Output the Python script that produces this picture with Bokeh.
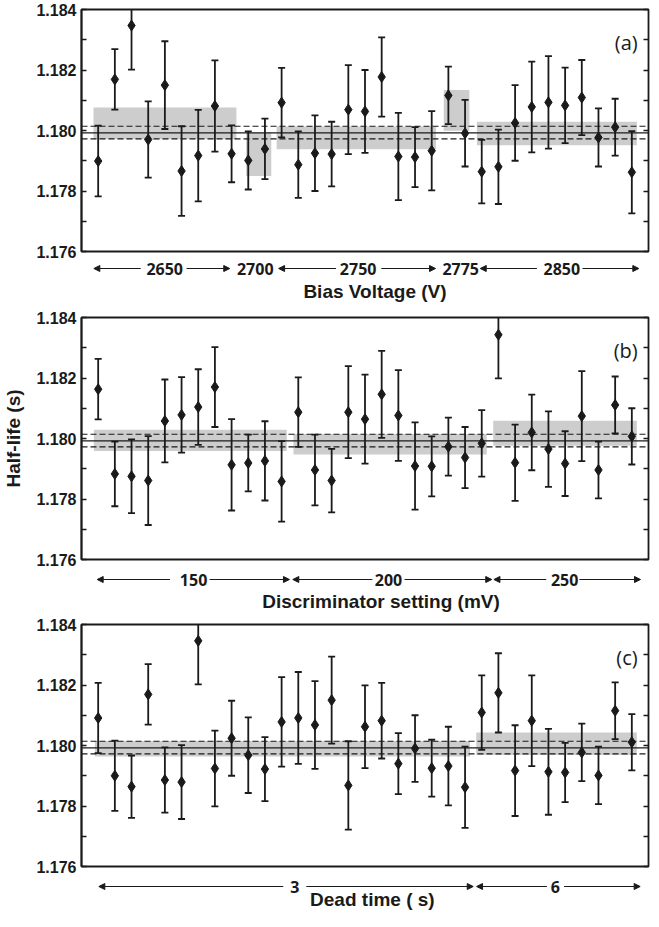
from bokeh.plotting import figure
from bokeh.models import (Range1d, FixedTicker, LinearAxis, Arrow, NormalHead, Span,
                          PrintfTickFormatter, CustomJSTickFormatter)
from bokeh.layouts import column
from bokeh.core.properties import value
from bokeh.embed import file_html
from bokeh.resources import INLINE

# ---------------- data ----------------
run_index = list(range(1, 34))

bias_val = [1.17899, 1.18169, 1.18347, 1.17970, 1.18150, 1.17866, 1.17917, 1.18081, 1.17923,
            1.17901, 1.17939, 1.18092, 1.17887, 1.17925, 1.17922, 1.18069, 1.18063, 1.18177,
            1.17914, 1.17912, 1.17933, 1.18116, 1.17991, 1.17864, 1.17880, 1.18025, 1.18078,
            1.18093, 1.18083, 1.18109, 1.17977, 1.18011, 1.17862]
bias_err = [0.00117, 0.00100, 0.00146, 0.00126, 0.00145, 0.00148, 0.00151, 0.00151, 0.00094,
            0.00096, 0.00100, 0.00115, 0.00110, 0.00125, 0.00107, 0.00147, 0.00137, 0.00131,
            0.00144, 0.00099, 0.00131, 0.00095, 0.00110, 0.00105, 0.00123, 0.00125, 0.00150,
            0.00153, 0.00125, 0.00124, 0.00096, 0.00094, 0.00136]

disc_val = [1.18163, 1.17883, 1.17875, 1.17861, 1.18058, 1.18078, 1.18104, 1.18170, 1.17913,
            1.17919, 1.17926, 1.17858, 1.18087, 1.17896, 1.17861, 1.18087, 1.18064, 1.18146,
            1.18076, 1.17909, 1.17908, 1.17973, 1.17937, 1.17984, 1.18343, 1.17920, 1.18020,
            1.17965, 1.17917, 1.18074, 1.17896, 1.18111, 1.18007]
disc_err = [0.00100, 0.00107, 0.00122, 0.00147, 0.00137, 0.00125, 0.00125, 0.00132, 0.00151,
            0.00094, 0.00131, 0.00133, 0.00115, 0.00117, 0.00105, 0.00152, 0.00147, 0.00144,
            0.00150, 0.00144, 0.00099, 0.00096, 0.00101, 0.00110, 0.00144, 0.00126, 0.00125,
            0.00125, 0.00107, 0.00149, 0.00094, 0.00094, 0.00093]

dead_val = [1.18091, 1.17900, 1.17864, 1.18169, 1.17886, 1.17879, 1.18346, 1.17924, 1.18024,
            1.17968, 1.17922, 1.18078, 1.18091, 1.18068, 1.18150, 1.17868, 1.18062, 1.18082,
            1.17940, 1.17990, 1.17925, 1.17932, 1.17862, 1.18109, 1.18174, 1.17917, 1.18082,
            1.17913, 1.17911, 1.17977, 1.17901, 1.18115, 1.18011]
dead_err = [0.00116, 0.00116, 0.00103, 0.00100, 0.00108, 0.00122, 0.00144, 0.00125, 0.00124,
            0.00125, 0.00106, 0.00148, 0.00152, 0.00145, 0.00144, 0.00146, 0.00137, 0.00125,
            0.00101, 0.00110, 0.00094, 0.00130, 0.00134, 0.00123, 0.00131, 0.00150, 0.00150,
            0.00142, 0.00098, 0.00095, 0.00095, 0.00094, 0.00093]

# group averages (grey bands): run-index extent and value range
bias_band_left = [0.72, 9.87, 11.70, 21.72, 23.71]
bias_band_right = [9.29, 11.38, 21.26, 23.26, 33.30]
bias_band_low = [1.17971, 1.17850, 1.17938, 1.17999, 1.17951]
bias_band_high = [1.18076, 1.17993, 1.18013, 1.18134, 1.18029]

disc_band_left = [0.74, 12.71, 24.69]
disc_band_right = [12.31, 24.30, 33.30]
disc_band_low = [1.17959, 1.17947, 1.17976]
disc_band_high = [1.18029, 1.18015, 1.18059]

dead_band_left = [0.80, 23.67]
dead_band_right = [23.30, 33.30]
dead_band_low = [1.17964, 1.17969]
dead_band_high = [1.18015, 1.18043]

# overall result
mean_halflife = 1.17992
mean_upper = 1.18014
mean_lower = 1.17972

# setting labels under each panel
bias_labels = ["2650", "2700", "2750", "2775", "2850"]
bias_label_x = [4.99, 10.42, 16.59, 22.74, 28.80]
bias_arrows = [(3.55, 0.74), (6.30, 8.89), (15.26, 11.82), (17.98, 21.23), (27.31, 23.91), (30.04, 33.42)]

disc_labels = ["150", "200", "250"]
disc_label_x = [6.72, 18.41, 28.97]
disc_arrows = [(5.31, 0.94), (7.68, 12.47), (17.44, 12.67), (19.37, 24.60), (27.87, 24.73), (29.86, 33.52)]

dead_labels = ["3", "6"]
dead_label_x = [12.79, 28.41]
dead_arrows = [(12.10, 1.04), (13.48, 23.49), (27.91, 23.69), (28.94, 33.50)]

y_ticks = [1.176, 1.178, 1.180, 1.182, 1.184]
y_minor = [1.177, 1.179, 1.181, 1.183]

# ---------------- styling ----------------
INK = "#1a1a1a"
BAND = "#cdcdcd"
W = 651
BL, BR = 77, 3
x_range = Range1d(0, 34)


def make_panel(vals, errs, bl, br, blo, bhi, tag, ylabel=None):
    p = figure(width=W, height=259, x_range=x_range, y_range=Range1d(1.176, 1.184),
               output_backend="svg", toolbar_location=None,
               min_border_left=BL, min_border_right=BR, min_border_top=9, min_border_bottom=8,
               x_axis_location=None, y_axis_location="left")
    p.grid.visible = False
    p.outline_line_color = INK
    p.outline_line_width = 1.8
    p.background_fill_color = "white"

    ticker = FixedTicker(ticks=y_ticks, minor_ticks=y_minor)
    ax = p.yaxis[0]
    ax.ticker = ticker
    ax.formatter = PrintfTickFormatter(format="%.3f")
    ax.major_tick_in = 5
    ax.major_tick_out = 0
    ax.minor_tick_in = 5
    ax.minor_tick_out = 0
    ax.major_tick_line_width = 1.3
    ax.minor_tick_line_width = 1.3
    ax.major_tick_line_color = INK
    ax.minor_tick_line_color = INK
    ax.axis_line_color = INK
    ax.axis_line_width = 1.8
    ax.major_label_standoff = 5
    ax.major_label_text_font = "Liberation Sans"
    ax.major_label_text_font_style = "bold"
    ax.major_label_text_font_size = "16px"
    ax.major_label_text_color = INK
    if ylabel:
        ax.axis_label = ylabel
        ax.axis_label_text_font = "Liberation Sans"
        ax.axis_label_text_font_style = "bold"
        ax.axis_label_text_font_size = "19px"
        ax.axis_label_text_color = INK
        ax.axis_label_standoff = 9

    rax = LinearAxis(ticker=ticker, formatter=CustomJSTickFormatter(code="return ''"),
                     major_tick_in=5, major_tick_out=0, minor_tick_in=5, minor_tick_out=0,
                     major_tick_line_color=INK, minor_tick_line_color=INK,
                     major_tick_line_width=1.3, minor_tick_line_width=1.3,
                     axis_line_color=None, major_label_standoff=0,
                     major_label_text_font_size="1px")
    p.add_layout(rax, "right")

    p.quad(left=bl, right=br, bottom=blo, top=bhi, fill_color=BAND, line_color=None)

    p.add_layout(Span(location=mean_halflife, dimension="width", line_color=INK, line_width=1.4))
    p.add_layout(Span(location=mean_upper, dimension="width", line_color=INK, line_width=1.2,
                      line_dash="6 3"))
    p.add_layout(Span(location=mean_lower, dimension="width", line_color=INK, line_width=1.2,
                      line_dash="6 3"))

    lo = [v - e for v, e in zip(vals, errs)]
    hi = [v + e for v, e in zip(vals, errs)]
    p.segment(x0=run_index, y0=lo, x1=run_index, y1=hi, line_color=INK, line_width=1.8)
    p.scatter(run_index, hi, marker="dash", size=7, line_color=INK, line_width=1.8)
    p.scatter(run_index, lo, marker="dash", size=7, line_color=INK, line_width=1.8)
    p.scatter(run_index, vals, marker="diamond", size=11, fill_color=INK, line_color=INK)

    p.text(x=[33.35], y=[1.1829], text=[tag], text_align="right", text_baseline="middle",
           text_font=value("Open Sans"), text_font_size="20px", text_color=INK)
    return p


def make_strip(h, labels, label_x, arrows, arrow_y, title, title_x, title_y):
    s = figure(width=W, height=h, x_range=x_range, y_range=Range1d(0, h),
               output_backend="svg", toolbar_location=None,
               min_border_left=BL, min_border_right=BR, min_border_top=0, min_border_bottom=0,
               x_axis_location=None, y_axis_location=None)
    s.grid.visible = False
    s.outline_line_color = None
    for a, b in arrows:
        s.add_layout(Arrow(x_start=a, y_start=arrow_y, x_end=b, y_end=arrow_y,
                           line_color=INK, line_width=1.1,
                           end=NormalHead(size=6, fill_color=INK, line_color=INK, line_width=1)))
    s.text(x=label_x, y=[arrow_y] * len(labels), text=labels, text_align="center",
           text_baseline="middle", text_font=value("Open Sans"), text_font_style="bold",
           text_font_size="16px", text_color=INK)
    s.text(x=[title_x], y=[title_y], text=[title], text_align="center",
           text_baseline="middle", text_font=value("Liberation Sans"),
           text_font_style="bold", text_font_size="19px", text_color=INK)
    return s


pa = make_panel(bias_val, bias_err, bias_band_left, bias_band_right, bias_band_low,
                bias_band_high, "(a)")
sa = make_strip(49, bias_labels, bias_label_x, bias_arrows, 40, "Bias Voltage (V)", 17.6, 17)
pb = make_panel(disc_val, disc_err, disc_band_left, disc_band_right, disc_band_low,
                disc_band_high, "(b)", ylabel="Half-life (s)")
sb = make_strip(48, disc_labels, disc_label_x, disc_arrows, 36,
                "Discriminator setting (mV)", 17.96, 14)
pc = make_panel(dead_val, dead_err, dead_band_left, dead_band_right, dead_band_low,
                dead_band_high, "(c)")
sc = make_strip(37, dead_labels, dead_label_x, dead_arrows, 25, "Dead time (  s)", 17.6, 12)

layout = column(pa, sa, pb, sb, pc, sc, spacing=0)

open("out.html", "w").write(file_html(layout, INLINE))
